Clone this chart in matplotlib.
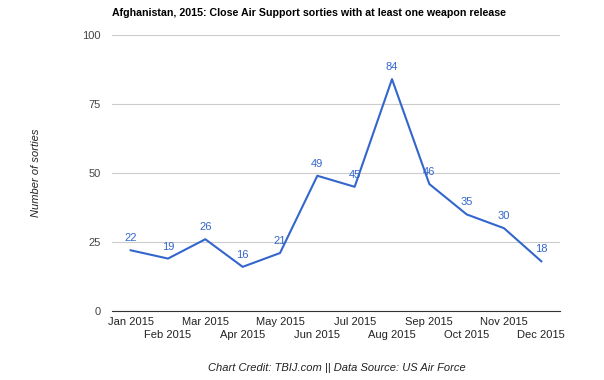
import matplotlib.pyplot as plt

months = ['Jan 2015', 'Feb 2015', 'Mar 2015', 'Apr 2015', 'May 2015', 'Jun 2015',
          'Jul 2015', 'Aug 2015', 'Sep 2015', 'Oct 2015', 'Nov 2015', 'Dec 2015']
sorties = [22, 19, 26, 16, 21, 49, 45, 84, 46, 35, 30, 18]
y_ticks = [0, 25, 50, 75, 100]

plt.rcParams['font.family'] = ['Liberation Sans', 'DejaVu Sans']

fig = plt.figure(figsize=(6.04, 3.80), dpi=100)
ax = fig.add_axes([112 / 604, 1 - 311 / 380, 448 / 604, 276 / 380])

blue = '#3366cc'
x = list(range(len(months)))
ax.plot(x, sorties, color=blue, linewidth=1.5, zorder=3)
for xi, v in zip(x, sorties):
    ax.annotate(str(v), (xi, v), xytext=(0, 5), textcoords='offset points',
                ha='center', va='bottom', fontsize=8, color=blue)

ax.set_xlim(-0.5, len(months) - 0.5)
ax.set_ylim(0, 100)
ax.set_yticks(y_ticks)
ax.set_yticklabels([str(t) for t in y_ticks], fontsize=8, color='#444444')
ax.grid(axis='y', color='#cccccc', linewidth=0.8)
ax.set_axisbelow(True)
for s in ['top', 'right', 'left']:
    ax.spines[s].set_visible(False)
ax.spines['bottom'].set_color('#333333')
ax.spines['bottom'].set_linewidth(0.8)
ax.tick_params(axis='y', length=0, pad=8)

# staggered month labels: even months on major ticks, odd months lower on minor ticks
ax.set_xticks(x[0::2])
ax.set_xticklabels(months[0::2], fontsize=8, color='#222222')
ax.set_xticks(x[1::2], minor=True)
ax.set_xticklabels(months[1::2], minor=True, fontsize=8, color='#222222')
ax.tick_params(axis='x', which='major', length=0, pad=4)
ax.tick_params(axis='x', which='minor', length=0, pad=14)

ax.set_ylabel('Number of sorties', fontsize=8, style='italic', color='#222222',
              labelpad=30)

fig.text(112 / 604, 1 - 13 / 380, 'Afghanistan, 2015: Close Air Support sorties with at least one weapon release',
         fontsize=7.7, fontweight='bold', ha='left', va='center', color='#000000')
fig.text(337 / 604, 1 - 368 / 380, 'Chart Credit: TBIJ.com || Data Source: US Air Force',
         fontsize=8, style='italic', ha='center', va='center', color='#222222')

fig.savefig('out.png', dpi=100)
